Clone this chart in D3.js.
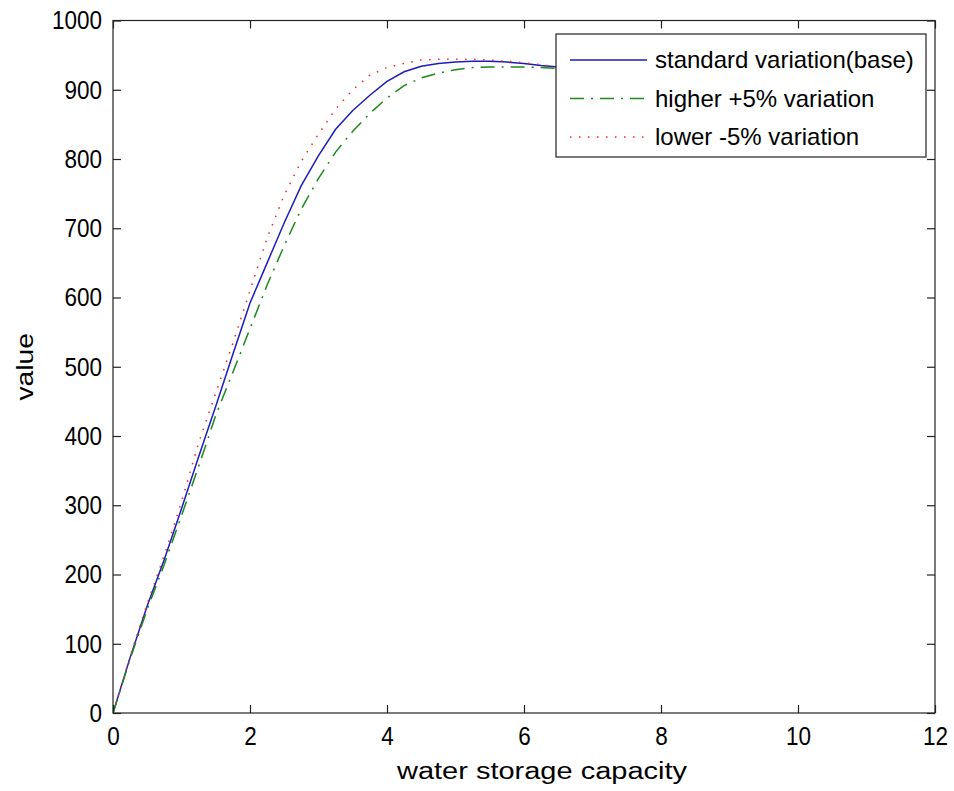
<html>
<head>
<title>water storage capacity</title>
<script src="https://d3js.org/d3.v7.min.js"></script>
<style>
  body { margin: 0; background: #fff; }
  text { font-family: "Liberation Sans", Arial, sans-serif; fill: #000; }
</style>
</head>
<body>
<svg id="chart" width="954" height="791"></svg>
<script>
// values
const xValues      = [0, 0.25, 0.5, 0.75, 1, 1.25, 1.5, 1.75, 2, 2.25, 2.5, 2.75, 3, 3.25, 3.5, 3.75, 4, 4.25, 4.5, 4.75, 5, 5.25, 5.5, 5.75, 6, 6.25, 6.5, 6.75, 7];
const baseValues   = [0, 80, 155, 222, 295, 370, 443, 518, 592, 650, 708, 762, 805, 843, 870, 892, 912, 926, 934, 938, 940, 941, 941, 940, 938, 935, 933, 931, 930];
const higherValues = [0, 78, 150, 215, 285, 356, 430, 492, 555, 618, 675, 728, 772, 810, 840, 866, 888, 906, 917, 924, 929, 932, 933, 933, 933, 932, 931, 930, 929];
const lowerValues  = [0, 82, 158, 228, 305, 390, 462, 534, 610, 686, 748, 797, 836, 872, 900, 921, 932, 938, 943, 944, 944, 944, 943, 941, 939, 936, 933, 931, 930];
const seriesNames  = ["standard variation(base)", "higher +5% variation", "lower -5% variation"];
const xTicks = [0, 2, 4, 6, 8, 10, 12];
const yTicks = [0, 100, 200, 300, 400, 500, 600, 700, 800, 900, 1000];

const svg = d3.select("#chart");
const width = +svg.attr("width");
const height = +svg.attr("height");
const margin = {top: 20.5, right: 19, bottom: 78, left: 113};

const x = d3.scaleLinear().domain([0, 12]).range([margin.left, width - margin.right]);
const y = d3.scaleLinear().domain([0, 1000]).range([height - margin.bottom, margin.top]);

const series = [
  {name: seriesNames[0], values: baseValues,   color: "#1c1cc0", dash: null},
  {name: seriesNames[1], values: higherValues, color: "#1a8a1a", dash: "14,7,2,7"},
  {name: seriesNames[2], values: lowerValues,  color: "#ff2020", dash: "1.5,7.5"}
];

// squeeze / stretch text horizontally so it matches the old matlab bitmap font
function fitWidth(sel, factor) {
  sel.each(function() {
    const n = this.getComputedTextLength();
    d3.select(this).attr("textLength", n * factor).attr("lengthAdjust", "spacingAndGlyphs");
  });
}

svg.append("defs").append("clipPath").attr("id", "clip")
  .append("rect")
  .attr("x", x(0)).attr("y", y(1000))
  .attr("width", x(12) - x(0)).attr("height", y(0) - y(1000));

const line = d3.line()
  .x((d, i) => x(xValues[i]))
  .y(d => y(d));

const plot = svg.append("g").attr("clip-path", "url(#clip)");
plot.selectAll("path")
  .data(series)
  .join("path")
  .attr("fill", "none")
  .attr("stroke", d => d.color)
  .attr("stroke-width", 1.5)
  .attr("stroke-dasharray", d => d.dash)
  .attr("d", d => line(d.values));

// axes, ticks pointing inward, mirrored on top and right
const tickLen = 8;
const axisStyle = g => {
  g.select(".domain").remove();
  g.selectAll("line").attr("stroke", "#222").attr("stroke-width", 1.2);
  g.selectAll("text").attr("font-size", 26).style("fill", "#000").call(fitWidth, 0.865);
};

svg.append("g")
  .attr("transform", `translate(0,${y(0)})`)
  .call(d3.axisBottom(x).tickValues(xTicks).tickFormat(d3.format("d")).tickSizeInner(-tickLen).tickSizeOuter(0).tickPadding(14))
  .call(axisStyle);

svg.append("g")
  .attr("transform", `translate(${x(0)},0)`)
  .call(d3.axisLeft(y).tickValues(yTicks).tickFormat(d3.format("d")).tickSizeInner(-tickLen).tickSizeOuter(0).tickPadding(11))
  .call(axisStyle);

svg.append("g")
  .attr("transform", `translate(0,${y(1000)})`)
  .call(d3.axisTop(x).tickValues(xTicks).tickSizeInner(-tickLen).tickSizeOuter(0).tickFormat(""))
  .call(axisStyle);

svg.append("g")
  .attr("transform", `translate(${x(12)},0)`)
  .call(d3.axisRight(y).tickValues(yTicks).tickSizeInner(-tickLen).tickSizeOuter(0).tickFormat(""))
  .call(axisStyle);

svg.append("rect")
  .attr("x", x(0)).attr("y", y(1000))
  .attr("width", x(12) - x(0)).attr("height", y(0) - y(1000))
  .attr("fill", "none").attr("stroke", "#222").attr("stroke-width", 1.2);

// axis titles
svg.append("text")
  .attr("x", 542)
  .attr("y", 779)
  .attr("text-anchor", "middle")
  .attr("font-size", 23)
  .attr("textLength", 290)
  .attr("lengthAdjust", "spacingAndGlyphs")
  .text("water storage capacity");

svg.append("text")
  .attr("transform", `translate(33,${(y(0) + y(1000)) / 2}) rotate(-90)`)
  .attr("text-anchor", "middle")
  .attr("font-size", 24)
  .text("value")
  .call(fitWidth, 1.18);

// legend
const legend = svg.append("g");
legend.append("rect")
  .attr("x", 556).attr("y", 34)
  .attr("width", 370).attr("height", 123)
  .attr("fill", "#fff").attr("stroke", "#222").attr("stroke-width", 1.2);

const rows = legend.selectAll("g.row")
  .data(series)
  .join("g")
  .attr("class", "row")
  .attr("transform", (d, i) => `translate(0,${60 + i * 38.5})`);

rows.append("line")
  .attr("x1", 570).attr("x2", 647)
  .attr("stroke", d => d.color)
  .attr("stroke-width", 1.5)
  .attr("stroke-dasharray", d => d.dash);

rows.append("text")
  .attr("x", 655)
  .attr("dy", "0.35em")
  .attr("font-size", 24)
  .text(d => d.name)
  .call(fitWidth, 1.0);
</script>
</body>
</html>
